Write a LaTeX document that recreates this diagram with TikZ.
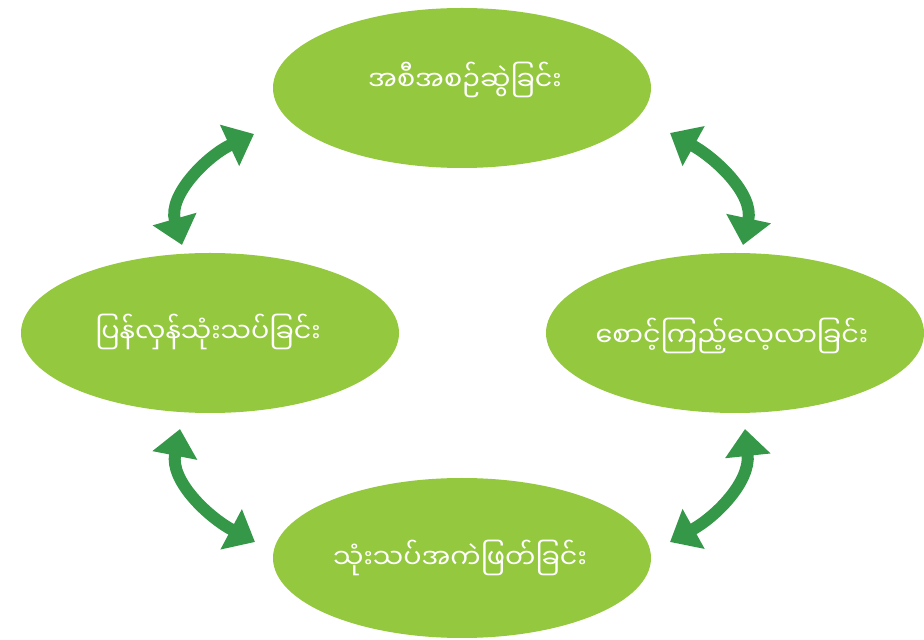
\documentclass[tikz,border=0pt]{standalone}
\usepackage{fontspec}
\newfontfamily\mmfont[Script=Myanmar]{Noto Sans Myanmar UI}
\usetikzlibrary{shapes.geometric,arrows.meta}
\definecolor{blobgreen}{RGB}{148,200,62}
\definecolor{arrgreen}{RGB}{52,152,72}
\tikzset{
  blob/.style={ellipse,fill=blobgreen,draw=none,minimum width=378pt,minimum height=160pt,inner sep=0pt},
  label text/.style={text=white,font=\mmfont\fontsize{27}{32}\selectfont,inner sep=0pt},
  twoway/.style={draw=arrgreen,line width=12pt,
    {Triangle[length=27pt,width=44pt]}-{Triangle[length=27pt,width=44pt]}}
}
\begin{document}
\begin{tikzpicture}[x=1pt,y=1pt]
\useasboundingbox (0,0) rectangle (924,640);
\node[blob] (top) at (462,552) {};
\node[blob] (left) at (210,307) {};
\node[blob] (right) at (735,307) {};
\node[blob] (bottom) at (462,82) {};
\node[label text] (toptext) at (465,560) {အစီအစဉ်ဆွဲခြင်း};
\node[label text] (lefttext) at (208,308) {ပြန်လှန်သုံးသပ်ခြင်း};
\node[label text] (righttext) at (732,304) {စောင့်ကြည့်လေ့လာခြင်း};
\node[label text] (bottomtext) at (460,82) {သုံးသပ်အကဲဖြတ်ခြင်း};
\coordinate (tlA) at (182,395);
\coordinate (tlB) at (254,506);
\coordinate (trA) at (670,507);
\coordinate (trB) at (743,395);
\coordinate (blA) at (180,211);
\coordinate (blB) at (255,98);
\coordinate (brA) at (745,211);
\coordinate (brB) at (670,98);
\draw[twoway] (tlA) to[out=106,in=205] (tlB);
\draw[twoway] (trA) to[out=331,in=78] (trB);
\draw[twoway] (blA) to[out=259,in=152] (blB);
\draw[twoway] (brA) to[out=276,in=29] (brB);
\end{tikzpicture}
\end{document}
